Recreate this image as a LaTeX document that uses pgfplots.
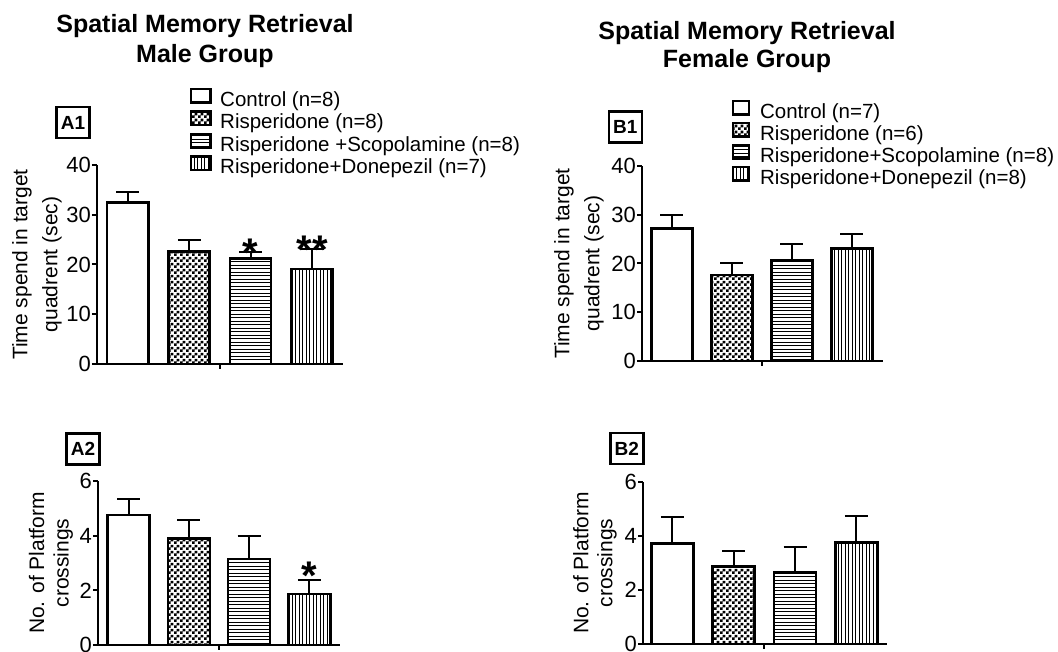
\documentclass[border=0pt]{standalone}
\usepackage{fontspec}
\setmainfont{Liberation Sans}
\usepackage{pgfplots}
\pgfplotsset{compat=1.18}
\usetikzlibrary{patterns}

\pgfdeclarepatternformonly{hlin}{\pgfpoint{-1pt}{-1pt}}{\pgfpoint{4.5pt}{4.5pt}}{\pgfpoint{3.5pt}{3.5pt}}{%
  \pgfsetlinewidth{0.8pt}\pgfpathmoveto{\pgfpoint{-1pt}{1.75pt}}\pgfpathlineto{\pgfpoint{4.5pt}{1.75pt}}\pgfusepath{stroke}}
\pgfdeclarepatternformonly{vlin}{\pgfpoint{-1pt}{-1pt}}{\pgfpoint{4.5pt}{4.5pt}}{\pgfpoint{3.5pt}{3.5pt}}{%
  \pgfsetlinewidth{0.8pt}\pgfpathmoveto{\pgfpoint{1.75pt}{-1pt}}\pgfpathlineto{\pgfpoint{1.75pt}{4.5pt}}\pgfusepath{stroke}}
\pgfdeclarepatternformonly{chk}{\pgfpointorigin}{\pgfpoint{6pt}{6pt}}{\pgfpoint{6pt}{6pt}}{%
  \pgfpathrectangle{\pgfpointorigin}{\pgfpoint{3pt}{3pt}}\pgfpathrectangle{\pgfpoint{3pt}{3pt}}{\pgfpoint{3pt}{3pt}}\pgfusepath{fill}}

\pgfplotsset{
  barax/.style={
    scale only axis, anchor=south west,
    axis lines*=left, axis line style={line width=2pt, black},
    ybar, bar shift=0pt,
    ymin=0, enlargelimits=false,
    xtick={1.5}, xticklabels={},
    tick align=outside, major tick length=5pt,
    tick style={line width=2pt, black},
    yticklabel style={font=\fontsize{22}{22}\selectfont, inner sep=1pt},
    /pgf/number format/assume math mode=true,
    clip=false,
    legend cell align=left,
    legend style={draw=none, fill=none, anchor=north west, inner sep=0pt, outer sep=0pt,
      font=\fontsize{20.5}{22}\selectfont, /tikz/column sep=0pt, /tikz/row sep=0pt,
      nodes={inner sep=0pt, text height=17pt, text depth=4pt}},
  },
  ctl/.style={draw=black, line width=2.5pt, fill=white},
  ris/.style={draw=black, line width=2.5pt, pattern=chk},
  sco/.style={draw=black, line width=2.5pt, pattern=hlin},
  don/.style={draw=black, line width=2.5pt, pattern=vlin},
  eb/.style={error bars/y dir=plus, error bars/y explicit,
    error bars/error mark=|,
    error bars/error bar style={line width=2pt, black},
    error bars/error mark options={line width=2pt, black, mark size=11.5pt}},
}
\newcommand{\starfont}{\bfseries\fontsize{40}{40}\selectfont}

\begin{document}
\begin{tikzpicture}
\useasboundingbox (0pt,0pt) rectangle (1058pt,652pt);

% Titles
\node[anchor=base, font=\bfseries\fontsize{25}{30}\selectfont, inner sep=0pt] at (205pt,619pt) {Spatial Memory Retrieval};
\node[anchor=base, font=\bfseries\fontsize{25}{30}\selectfont, inner sep=0pt] at (205pt,589pt) {Male Group};
\node[anchor=base, font=\bfseries\fontsize{25}{30}\selectfont, inner sep=0pt] at (747pt,612pt) {Spatial Memory Retrieval};
\node[anchor=base, font=\bfseries\fontsize{25}{30}\selectfont, inner sep=0pt] at (747pt,584pt) {Female Group};

% Panel tags
\tikzset{tag/.style={draw, line width=2.5pt, font=\bfseries\fontsize{19}{19}\selectfont, minimum width=33pt, minimum height=31pt, inner sep=0pt}}
\node[tag] at (73pt,529.5pt) {A1};
\node[tag] at (83pt,203.2pt) {A2};
\node[tag] at (625.3pt,524.8pt) {B1};
\node[tag] at (626.8pt,203.5pt) {B2};

% A1
\begin{axis}[barax, at={(97pt,288pt)}, width=246pt, height=199pt,
  xmin=-0.5, xmax=3.5, bar width=41pt, ymax=40, ytick={0,10,20,30,40},
  ylabel={Time spend in target\\quadrent (sec)},
  ylabel style={align=center, font=\fontsize{21}{30}\selectfont, at={([xshift=-60pt]axis description cs:0,0.5)}, anchor=center},
  legend style={at={(0.378,1.387)}},
  legend image code/.code={\draw[#1, line width=2.5pt] (0pt,-2.8pt) rectangle (19.5pt,10.7pt); \path[draw=none,fill=none,pattern=none] (19.5pt,4pt) -- (29pt,4pt);},
]
\addplot[ctl, eb] coordinates {(0,32.5) +- (0,2.0)};
\addlegendentry{Control (n=8)}
\addplot[ris, eb] coordinates {(1,22.6) +- (0,2.4)};
\addlegendentry{Risperidone (n=8)}
\addplot[sco, eb] coordinates {(2,21.2) +- (0,1.4)};
\addlegendentry{Risperidone +Scopolamine (n=8)}
\addplot[don, eb] coordinates {(3,19.1) +- (0,4.1)};
\addlegendentry{Risperidone+Donepezil (n=7)}
\node[anchor=base, inner sep=0pt, font=\starfont, yshift=-15pt] at (axis cs:2,22.6) {*};
\node[anchor=base, inner sep=0pt, font=\starfont, yshift=-15pt] at (axis cs:3,23.2) {**};
\end{axis}

% A2
\begin{axis}[barax, at={(98pt,7pt)}, width=242pt, height=164pt,
  xmin=-0.51, xmax=3.51, bar width=42pt, ymax=6, ytick={0,2,4,6},
  ylabel={No. of Platform\\crossings},
  ylabel style={align=center, font=\fontsize{21}{24.5}\selectfont, at={([xshift=-47pt]axis description cs:0,0.5)}, anchor=center},
]
\addplot[ctl, eb] coordinates {(0,4.76) +- (0,0.57)};
\addplot[ris, eb] coordinates {(1,3.90) +- (0,0.67)};
\addplot[sco, eb] coordinates {(2,3.14) +- (0,0.85)};
\addplot[don, eb] coordinates {(3,1.87) +- (0,0.51)};
\node[anchor=base, inner sep=0pt, font=\starfont, yshift=-10pt] at (axis cs:3,2.38) {*};
\end{axis}

% B1
\begin{axis}[barax, at={(642pt,291pt)}, width=241pt, height=195pt,
  xmin=-0.5, xmax=3.52, bar width=41pt, ymax=40, ytick={0,10,20,30,40},
  ylabel={Time spend in target\\quadrent (sec)},
  ylabel style={align=center, font=\fontsize{21}{30}\selectfont, at={([xshift=-63pt]axis description cs:0,0.5)}, anchor=center},
  legend style={at={(0.373,1.340)}, nodes={text depth=3pt}},
  legend image code/.code={\draw[#1, line width=2.5pt] (0pt,-2.8pt) rectangle (16pt,10.7pt); \path[draw=none,fill=none,pattern=none] (16pt,4pt) -- (27pt,4pt);},
]
\addplot[ctl, eb] coordinates {(0,27.2) +- (0,2.75)};
\addlegendentry{Control (n=7)}
\addplot[ris, eb] coordinates {(1,17.6) +- (0,2.4)};
\addlegendentry{Risperidone (n=6)}
\addplot[sco, eb] coordinates {(2,20.7) +- (0,3.2)};
\addlegendentry{Risperidone+Scopolamine (n=8)}
\addplot[don, eb] coordinates {(3,23.1) +- (0,2.9)};
\addlegendentry{Risperidone+Donepezil (n=8)}
\end{axis}

% B2
\begin{axis}[barax, at={(643pt,8pt)}, width=244pt, height=162.3pt,
  xmin=-0.48, xmax=3.5, bar width=42pt, ymax=6, ytick={0,2,4,6},
  ylabel={No. of Platform\\crossings},
  ylabel style={align=center, font=\fontsize{21}{24}\selectfont, at={([xshift=-48pt]axis description cs:0,0.5)}, anchor=center},
]
\addplot[ctl, eb] coordinates {(0,3.72) +- (0,0.99)};
\addplot[ris, eb] coordinates {(1,2.86) +- (0,0.58)};
\addplot[sco, eb] coordinates {(2,2.64) +- (0,0.93)};
\addplot[don, eb] coordinates {(3,3.76) +- (0,0.98)};
\end{axis}
\end{tikzpicture}
\end{document}
